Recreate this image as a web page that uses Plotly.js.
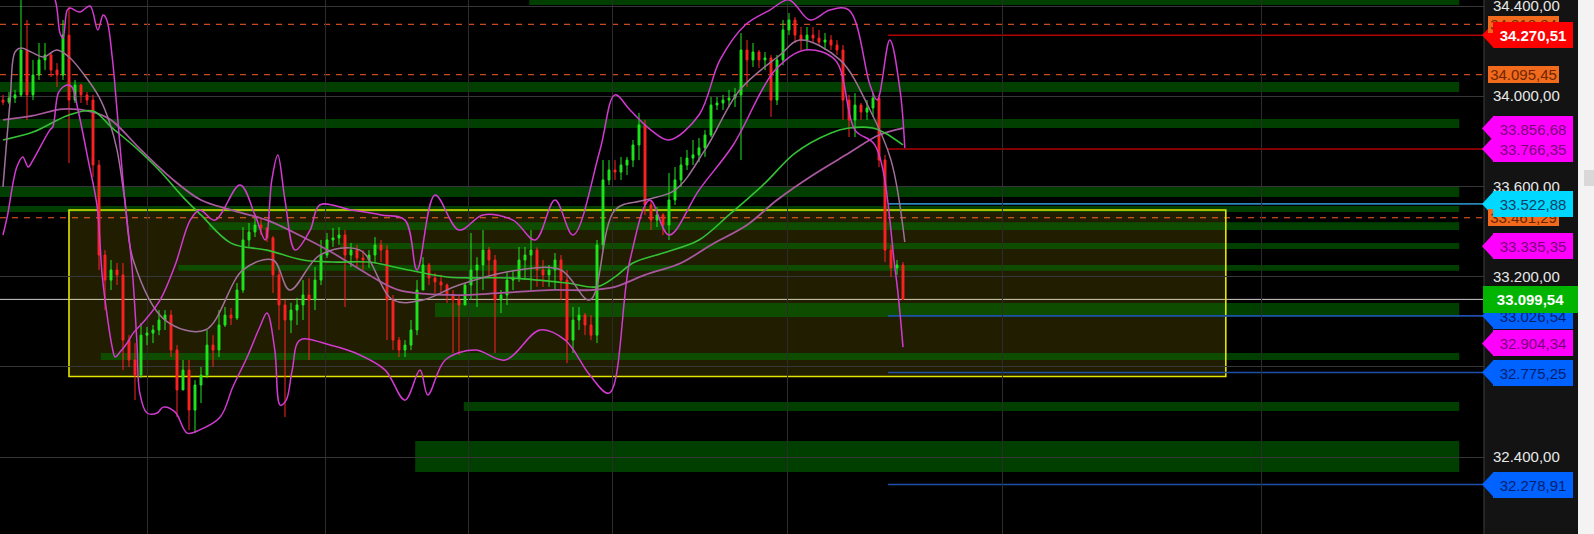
<!DOCTYPE html>
<html><head><meta charset="utf-8">
<script src="https://cdn.plot.ly/plotly-3.0.1.min.js"></script>
<style>
html,body{margin:0;padding:0;background:#f3f3f3;overflow:hidden;width:1594px;height:534px}
#wrap{position:relative;width:1594px;height:534px}
#chart{position:absolute;left:0;top:0;width:1594px;height:534px}
#strip{position:absolute;left:1578px;top:0;width:16px;height:534px;background:#f3f3f3;z-index:5}
#btn{position:absolute;left:1584px;top:170px;width:10px;height:16px;background:#d8d8d8}
</style>
</head><body><div id="wrap"><div id="chart"></div><div id="strip"><div id="btn" style="left:6px"></div></div></div>
<script>
// ---------- DATA ----------
const open = [33983,33974,33992,34006,34205,34006,34094,34161,34183,34116,
 34094,34271,33983,34050,34006,33983,33695,33296,33185,33230,
 33208,32919,32831,32764,32941,32950,32964,33008,33030,32875,
 32698,32786,32609,32720,32764,32897,32875,32986,33030,33017,
 33141,33363,33398,33429,33416,33372,33208,33075,33008,33052,
 33075,33119,33097,33185,33296,33363,33372,33385,33296,33318,
 33283,33274,33296,33341,33318,33097,32919,32875,32897,32964,
 33141,33252,33194,33177,33163,33119,33097,33075,33163,33230,
 33252,33318,33274,33097,33119,33185,33194,33274,33296,33318,
 33230,33208,33230,33274,33185,32919,33008,33030,32986,32941,
 33341,33629,33673,33664,33695,33717,33784,33873,33518,33451,
 33474,33429,33540,33629,33695,33726,33740,33771,33828,33961,
 33970,33983,33992,34006,34205,34161,34196,34161,34170,33983,
 34161,34294,34338,34271,34249,34271,34258,34240,34249,34227,
 34205,33983,33895,33961,33930,33948,33992,33717,33318,33239,
 33252];
const high = [34006,34019,34028,34427,34338,34161,34236,34236,34192,34147,
 34338,34396,34072,34055,34019,34006,33717,33318,33274,33261,
 33261,32941,32906,32995,32977,32986,33052,33052,33052,32897,
 32831,32831,32742,32800,32964,32941,33052,33066,33061,33172,
 33420,33438,33460,33460,33420,33380,33230,33097,33084,33106,
 33185,33194,33243,33363,33394,33416,33420,33407,33350,33341,
 33318,33318,33376,33363,33341,33119,32933,32919,33008,33185,
 33287,33261,33216,33208,33170,33141,33119,33172,33394,33287,
 33407,33332,33296,33141,33221,33230,33332,33332,33407,33330,
 33274,33252,33305,33296,33230,33066,33066,33039,33030,33363,
 33717,33717,33717,33731,33731,33806,33926,33895,33540,33509,
 33482,33660,33686,33731,33762,33806,33815,33850,33997,33997,
 34006,34028,34037,34280,34249,34236,34205,34196,34183,34183,
 34338,34369,34351,34307,34307,34307,34294,34280,34271,34249,
 34227,34006,34014,33970,33983,34014,34006,33740,33341,33274,
 33265];
const low = [33961,33966,33970,33997,33895,33983,34072,34116,34085,34041,
 34072,33704,33970,33970,33961,33642,33230,33052,33141,33163,
 32786,32800,32653,32751,32897,32906,32941,32964,32844,32578,
 32698,32520,32507,32640,32751,32800,32844,32977,32986,33008,
 33128,33332,33376,33385,33354,33128,32964,32578,32950,32986,
 33008,32831,33052,33163,33283,33332,33341,33066,33243,33243,
 33230,33239,33261,33265,32919,32875,32844,32844,32875,32941,
 33141,33163,33128,33128,33084,32862,32853,33075,33097,33066,
 33141,33199,32862,33039,33075,33141,33177,33185,33141,33155,
 33155,33155,33141,33097,32817,32862,32964,32941,32919,32906,
 33318,33607,33629,33629,33651,33686,33717,33474,33407,33420,
 33385,33363,33518,33598,33673,33695,33708,33731,33819,33939,
 33939,33952,33952,33717,34041,34130,34125,34116,33908,33961,
 34138,34271,34236,34205,34205,34236,34227,34205,34205,34183,
 33895,33819,33819,33895,33895,33908,33686,33265,33199,33208,
 33097];
const close = [33974,33992,34006,34205,34006,34094,34161,34183,34116,34094,
 34271,33983,34050,34006,33983,33695,33296,33185,33230,33208,
 32919,32831,32764,32941,32950,32964,33008,33030,32875,32698,
 32786,32609,32720,32764,32897,32875,32986,33030,33017,33141,
 33363,33398,33429,33416,33372,33208,33075,33008,33052,33075,
 33119,33097,33185,33296,33363,33372,33385,33296,33318,33283,
 33274,33296,33341,33318,33097,32919,32875,32897,32964,33141,
 33252,33194,33177,33163,33119,33097,33075,33163,33230,33252,
 33318,33274,33097,33119,33185,33194,33274,33296,33318,33230,
 33208,33230,33274,33185,32919,33008,33030,32986,32941,33341,
 33629,33673,33664,33695,33717,33784,33873,33518,33451,33474,
 33429,33540,33629,33695,33726,33740,33771,33828,33961,33970,
 33983,33992,34006,34205,34161,34196,34161,34170,33983,34161,
 34294,34338,34271,34249,34271,34258,34240,34249,34227,34205,
 33983,33895,33961,33930,33948,33992,33717,33318,33239,33252,
 33099.54];

// moving averages (bar index, price)
const maGreenX = [0,5,11,15,18,22,26,30,33,38,44,50,55,61,66,74,85,94,99,102,105,110,116,121,127,132,138,141,145,147,150];
const maGreenY = [33806,33841,33917,33935,33864,33775,33673,33553,33474,33349,33318,33274,33265,33265,33239,33199,33194,33172,33155,33199,33261,33305,33363,33474,33615,33748,33837,33859,33859,33837,33784];
const maPinkX = [0,5,10,15,18,23,28,33,38,44,50,55,61,66,75,83,91,98,102,107,113,118,124,129,135,141,146,150];
const maPinkY = [33895,33914,33943,33930,33895,33762,33638,33540,33496,33451,33376,33305,33208,33141,33119,33128,33141,33141,33155,33208,33261,33341,33429,33540,33651,33748,33828,33859];

// envelope curves (bar index, price)
const bandAX = [6.2,8.7,9.5,10,10.7,11.2,12.8,14.5,15.8,16.7,17.3,18.2,19,19.8,20.3,21.5,22.3,22.8,24,25.7,26.7,28.7,30.7,32.8,36.2,38.3,40.7,42.8,44,45.3,46.2,47.2,48.2,49.5,54.5,59.5,63.7,67,69.5,70.8,73.7,78.7,83.7,89.5,93.7,97.8,101,104.5,107.8,111,116,121.7,128.7,133.7,138.7,142,145.3,148.7,150];
const bandAY = [34560,34427,34280,34258,34382,34391,34373,34400,34294,34360,34338,34174,33939,33686,33540,33243,32919,32685,32596,32596,32622,32600,32507,32521,32578,32711,32844,32977,33039,32875,32631,32653,32786,32919,32897,32853,32786,32653,32786,32676,32831,32875,32831,32964,32919,32764,32684,33274,33540,33385,33584,33784,34116,34205,34161,33850,33784,33230,32888];
const bandBX = [0,0.7,2.3,3.3,4.2,5,7.8,8.3,9.2,10,10.8,11.5,12.5,14.2,15.7,16.5,17.3,18.2,18.7,19.5,20.7,21.7,23.7,26.2,28.7,31.2,32.8,35.3,39.5,42,43.7,44.8,45.8,47,48.7,51.2,52.8,58,63,67,69,72,76,80,85,88.7,92,95,99.5,102,104.5,108,111,116,119.5,123.7,127.8,131,134.5,137.8,141,144.5,145.7,147.8,149.5,150.3];
const bandBY = [33385,33465,33686,33731,33686,33717,33850,33864,34014,34041,34050,34041,33939,33717,33509,33216,33039,32888,32844,32866,32906,32950,33008,33097,33252,33451,33496,33451,33607,33474,33363,33629,33740,33540,33318,33407,33518,33496,33474,33451,33230,33562,33407,33474,33451,33363,33540,33385,33762,34006,33939,33850,33806,33917,34161,34316,34382,34427,34338,34382,34382,34050,33983,34249,34028,33771];
const midX = [0,1.2,2,3,5,6.7,9,11,13.3,16,17.8,19,20.3,21.7,27,33.7,40,45,47.8,52.8,59.5,65,70,76,86,93,97.8,102,107,112,117,122.8,129.5,132.8,139.5,144.5,148,150.3];
const midY = [33598,33983,34196,34214,34192,34174,34205,34174,34103,33997,33881,33762,33540,33274,33008,32964,33230,33274,33141,33296,33318,33097,33097,33163,33230,33230,33097,33496,33540,33584,33762,34028,34183,34249,34161,33939,33717,33354];

// volume-profile zones (start bar, low, high)
const zoneStart = [87.7,-1,-1,-1,-1,34.3,56.2,29.2,72,16.3,76.8,68.7];
const zoneLow   = [34404,34019,33859,33553,33487,33407,33323,33226,33022,32831,32605,32334];
const zoneHigh  = [34440,34063,33899,33598,33513,33442,33350,33252,33084,32862,32645,32472];
const zoneEnd = 242.7;

// consolidation box
const boxBars = [11, 203.8];
const boxPrices = [32757.7, 33495.6];

// price levels
const dashedLevels = [34318.84, 34095.45, 33461.29];
const rayLevels = [34270.51, 33766.35, 33522.88, 33026.54, 32775.25, 32278.91];
const rayKinds  = ['red','red','cyan','blue','blue','blue'];
const rayStart = 147.5;
const lastPrice = 33099.54;

// right-axis tags (drawn in this order)
const tagValues = [34318.84, 34095.45, 33461.29, 33026.54, 33856.68, 33766.35, 34270.51, 33522.88, 33335.35, 32904.34, 32775.25, 32278.91, 33099.54];
const tagKinds  = ['orange','orange','orange','blue','magenta','magenta','red','cyan','magenta','magenta','blue','blue','green'];

// axis
const priceTicks = [32400, 33200, 33600, 34000, 34400];
const hiddenGridTicks = [32800];
const sessionBars = [24, 53.67, 77.5, 101.5, 130.83, 166.5, 209.83];

// ---------- STYLE / LAYOUT ----------
const W = 1594, H = 534, PLOT_W = 1484, PANEL_END = 1578;
const px = v => v / W;
const yRange = [32059.6, 34426.6];
const perPx = (yRange[1] - yRange[0]) / H;
const barX = open.map((_, i) => i);

const tagStyle = {
  orange: {bg:'#f26a1c', fg:'#6e2600', arrow:false, bold:false},
  red:    {bg:'#ff0000', fg:'#ffffff', arrow:true,  bold:true},
  magenta:{bg:'#ff00ff', fg:'#7a007a', arrow:true,  bold:false},
  cyan:   {bg:'#00d8ff', fg:'#0a3f66', arrow:true,  bold:false},
  blue:   {bg:'#0062ff', fg:'#00206e', arrow:true,  bold:false},
  green:  {bg:'#00b400', fg:'#ffffff', arrow:false, bold:true}
};
const rayColor = {red:'#b00000', cyan:'#2a86b8', blue:'#1d4fa8'};

const fmt = v => {
  const s = v.toFixed(2).split('.');
  return s[0].replace(/\B(?=(\d{3})+(?!\d))/g, '.') + ',' + s[1];
};

const traces = [];
traces.push({
  type:'candlestick', x: barX, open, high, low, close,
  increasing:{line:{color:'#1ee81e', width:1}, fillcolor:'#1ee81e'},
  decreasing:{line:{color:'#ff2222', width:1}, fillcolor:'#ff2222'},
  whiskerwidth:0, hoverinfo:'skip', showlegend:false
});
const lineTrace = (x, y, color, width) => ({type:'scatter', mode:'lines', x, y, hoverinfo:'skip', showlegend:false,
  line:{color, width, shape:'spline', smoothing:1}});
traces.push(lineTrace(maPinkX, maPinkY, '#a8589e', 1.8));
traces.push(lineTrace(maGreenX, maGreenY, '#34c234', 1.6));
traces.push(lineTrace(midX, midY, '#a0709a', 1.5));
traces.push(lineTrace(bandAX, bandAY, '#d23ad2', 1.5));
traces.push(lineTrace(bandBX, bandBY, '#d23ad2', 1.5));

const shapes = [];
shapes.push({type:'rect', xref:'paper', yref:'paper', layer:'below', x0:px(PLOT_W), x1:px(PANEL_END), y0:0, y1:1, fillcolor:'#131313', line:{width:0}});
shapes.push({type:'rect', xref:'x', yref:'y', layer:'below', x0:boxBars[0], x1:boxBars[1], y0:boxPrices[0], y1:boxPrices[1],
  fillcolor:'rgba(255,225,0,0.13)', line:{width:0}});
zoneLow.forEach((lo, i) => shapes.push({type:'rect', xref:'x', yref:'y', layer:'below',
  x0:zoneStart[i], x1:zoneEnd, y0:lo, y1:zoneHigh[i], fillcolor:'rgba(0,115,0,0.55)', line:{width:0}}));
shapes.push({type:'rect', xref:'x', yref:'y', layer:'below', x0:boxBars[0], x1:boxBars[1], y0:boxPrices[0], y1:boxPrices[1],
  fillcolor:'rgba(0,0,0,0)', line:{width:1.6, color:'#e4e400'}});
dashedLevels.forEach(v => shapes.push({type:'line', xref:'paper', yref:'y', layer:'below', x0:0, x1:px(PLOT_W), y0:v, y1:v,
  line:{color:'#ff5a2a', width:1, dash:'6px,6px'}}));
rayLevels.forEach((v, i) => shapes.push({type:'line', xref:'x', yref:'y', layer:'below', x0:rayStart, x1:260, y0:v, y1:v,
  line:{color:rayColor[rayKinds[i]], width:1.6}}));
shapes.push({type:'line', xref:'paper', yref:'y', layer:'below', x0:0, x1:px(PLOT_W), y0:lastPrice, y1:lastPrice,
  line:{color:'#cfcfcf', width:1}});
shapes.push({type:'line', xref:'paper', yref:'paper', x0:px(PLOT_W), x1:px(PLOT_W), y0:0, y1:1, line:{color:'#3e3e3e', width:1}});
// light side strip (also covered by an HTML strip)
shapes.push({type:'rect', xref:'paper', yref:'paper', layer:'above', x0:px(PANEL_END), x1:1, y0:0, y1:1, fillcolor:'#f3f3f3', line:{width:0}});
const tipH = 13 * perPx;
tagValues.forEach((v, i) => {
  const st = tagStyle[tagKinds[i]];
  if (!st.arrow) return;
  shapes.push({type:'path', xref:'paper', yref:'y', layer:'above',
    path:`M ${px(1482)},${v} L ${px(1494)},${v + tipH} L ${px(1494)},${v - tipH} Z`,
    fillcolor:st.bg, line:{width:0}});
});

const annotations = tagValues.map((v, i) => {
  const k = tagKinds[i], st = tagStyle[k];
  let x0, w, h;
  if (k === 'orange') { x0 = 1488; w = 71; h = 17; }
  else if (k === 'green') { x0 = 1483; w = 95; h = 27; }
  else { x0 = 1493; w = 80; h = 26; }
  return {xref:'paper', yref:'y', x:px(x0), y:v, xanchor:'left', yanchor:'middle', showarrow:false,
    text: st.bold ? '<b>' + fmt(v) + '</b>' : fmt(v), width:w, height:h, align:'center', valign:'middle',
    bgcolor:st.bg, borderpad:0, borderwidth:0,
    font:{family:'Liberation Sans, Arial, sans-serif', size:15, color:st.fg}};
});

const layout = {
  width:W, height:H, margin:{l:0, r:0, t:0, b:0, pad:0, autoexpand:false},
  paper_bgcolor:'#f3f3f3', plot_bgcolor:'#000000',
  separators:',.', showlegend:false, boxgap:0.55, hovermode:false,
  font:{family:'Liberation Sans, Arial, sans-serif', color:'#e8e8e8', size:15},
  xaxis:{domain:[0, px(PLOT_W)], range:[-0.5, -0.5 + PLOT_W/6], tickvals:sessionBars, showticklabels:false,
    showgrid:true, gridcolor:'#2c2c2c', gridwidth:1, zeroline:false, showline:false, ticks:'',
    rangeslider:{visible:false}, fixedrange:true, automargin:false},
  yaxis:{side:'right', range:yRange, tickvals:priceTicks, tickformat:',.2f', showgrid:true, gridcolor:'#363636',
    minor:{tickvals:hiddenGridTicks, showgrid:true, gridcolor:'#363636', ticks:''},
    zeroline:false, showline:false, ticks:'', ticklabelstandoff:8, ticklabeloverflow:'allow', automargin:false,
    tickfont:{family:'Liberation Sans, Arial, sans-serif', size:15, color:'#e8e8e8'}, fixedrange:true},
  shapes, annotations
};
Plotly.newPlot('chart', traces, layout, {displayModeBar:false, staticPlot:true, responsive:false});
</script></body></html>
